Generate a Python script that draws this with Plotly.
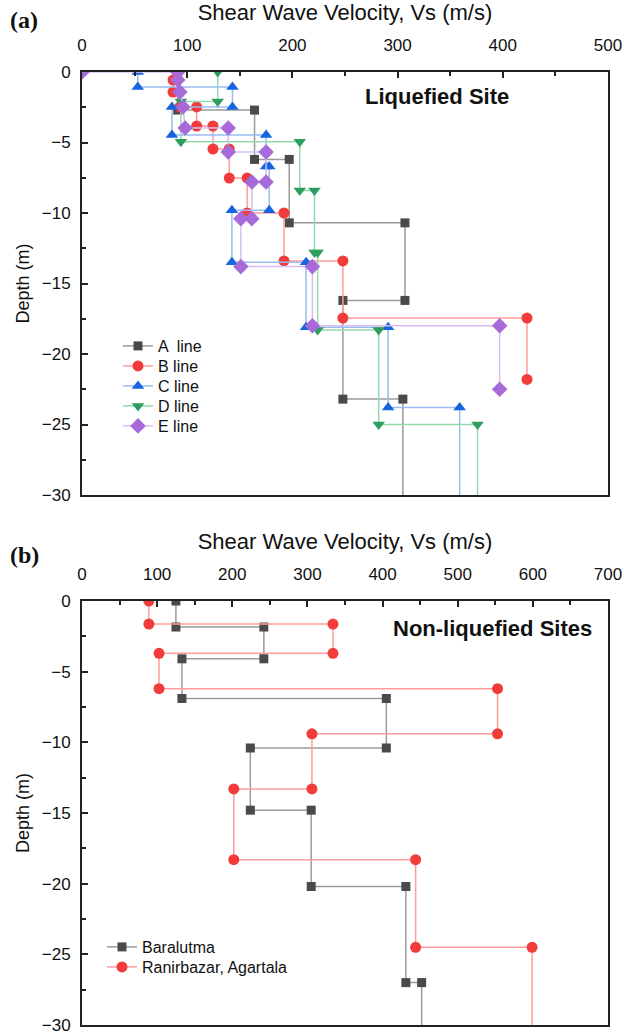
import plotly.graph_objects as go

# ---------------- Data: panel (a) Liquefied site ----------------
A_vs = [91, 91, 164, 164, 197, 197, 307, 307, 248, 248, 305, 305]
A_depth = [0, -2.7, -2.7, -6.2, -6.2, -10.7, -10.7, -16.2, -16.2, -23.2, -23.2, -31]

B_vs = [86.5, 86.5, 93, 93, 109, 109, 124.5, 124.5, 140, 140, 157, 157, 192, 192, 248, 248, 423, 423]
B_depth = [-0.57, -1.42, -1.42, -2.48, -2.48, -3.83, -3.83, -5.46, -5.46, -7.52, -7.52, -10.0, -10.0, -13.4, -13.4, -17.45, -17.45, -21.8]

C_vs = [53, 53, 143, 143, 85.5, 85.5, 175, 175, 178, 178, 142.5, 142.5, 213, 213, 291, 291, 359, 359]
C_depth = [0, -1.06, -1.06, -2.48, -2.48, -4.47, -4.47, -6.7, -6.7, -9.8, -9.8, -13.5, -13.5, -18.1, -18.1, -23.8, -23.8, -31]

D_vs = [129, 129, 94, 94, 207, 207, 221, 221, 224, 224, 282, 282, 376, 376]
D_depth = [0, -2.1, -2.1, -4.95, -4.95, -8.4, -8.4, -12.8, -12.8, -18.3, -18.3, -25.0, -25.0, -31]

E_vs = [0, 91, 91, 93, 96, 98, 139, 139, 175, 175, 161.5, 161.5, 151, 151, 219, 219, 397, 397]
E_depth = [0, 0, -0.57, -1.42, -2.48, -3.97, -3.97, -5.67, -5.67, -7.8, -7.8, -10.4, -10.4, -13.8, -13.8, -18.0, -18.0, -22.5]

# ---------------- Data: panel (b) Non-liquefied sites ----------------
Bar_vs = [125, 125, 242, 242, 133, 133, 405, 405, 224, 224, 305, 305, 431, 431, 452, 452]
Bar_depth = [0, -1.84, -1.84, -4.09, -4.09, -6.9, -6.9, -10.4, -10.4, -14.8, -14.8, -20.2, -20.2, -27.0, -27.0, -31]

Ran_vs = [89, 89, 334, 334, 102.5, 102.5, 553, 553, 306, 306, 202, 202, 444, 444, 599, 599]
Ran_depth = [0, -1.63, -1.63, -3.7, -3.7, -6.2, -6.2, -9.4, -9.4, -13.3, -13.3, -18.3, -18.3, -24.5, -24.5, -31]

x_ticks_a = [0, 100, 200, 300, 400, 500]
x_ticks_b = [0, 100, 200, 300, 400, 500, 600, 700]
y_ticks = [0, -5, -10, -15, -20, -25, -30]

FONT = "Liberation Sans, Arial, sans-serif"
W, H = 624, 1035
ML, MR, MT, MB = 82, 16, 72, 10
PW, PH = W - ML - MR, H - MT - MB


def px_x(px):
    return (px - ML) / PW


def px_y(py):
    return (H - MB - py) / PH


fig = go.Figure()

series_a = [
    ("A  line", A_vs, A_depth, "square", 9, "#4a4a4a", "#9a9a9a"),
    ("B line", B_vs, B_depth, "circle", 11, "#f23b3b", "#ff9d9d"),
    ("C line", C_vs, C_depth, "triangle-up", 11, "#1565e0", "#9bbcf0"),
    ("D line", D_vs, D_depth, "triangle-down", 11, "#2e9e5e", "#94d9ae"),
    ("E line", E_vs, E_depth, "diamond", 12, "#a86ad9", "#d9bdf2"),
]
series_b = [
    ("Baralutma", Bar_vs, Bar_depth, "square", 9, "#4a4a4a", "#9a9a9a"),
    ("Ranirbazar, Agartala", Ran_vs, Ran_depth, "circle", 11, "#f23b3b", "#ff9d9d"),
]

legend_layout = {}
k = 0
for panel, series, (lx, ly0) in (("a", series_a, (118, 346)), ("b", series_b, (102, 947))):
    xa, ya = ("x", "y") if panel == "a" else ("x2", "y2")
    for i, (name, xs, ys, sym, sz, mc, lc) in enumerate(series):
        k += 1
        lname = "legend" if k == 1 else f"legend{k}"
        fig.add_trace(go.Scatter(
            x=xs, y=ys, name=name, mode="lines+markers", showlegend=True,
            line=dict(color=lc, width=1.5),
            marker=dict(symbol=sym, size=sz, color=mc),
            xaxis=xa, yaxis=ya, legend=lname,
        ))
        legend_layout[lname] = dict(
            x=px_x(lx), y=px_y(ly0 + 20 * i), xanchor="left", yanchor="middle",
            bgcolor="rgba(0,0,0,0)", borderwidth=0, visible=True,
            font=dict(family=FONT, size=16, color="#111"),
        )


def xaxis(rng, ticks, anchor):
    return dict(
        range=rng, side="top", anchor=anchor, automargin=False,
        tickvals=ticks, ticks="inside", ticklen=6, tickwidth=1.5, tickcolor="#222",
        minor=dict(dtick=50, ticks="inside", ticklen=4, tickwidth=1.5, tickcolor="#222"),
        showline=True, linecolor="#222", linewidth=1.8, mirror=True,
        showgrid=False, zeroline=False,
        tickfont=dict(family=FONT, size=17, color="#111"),
        ticklabelstandoff=12,
        title=dict(text="Shear Wave Velocity, Vs (m/s)", font=dict(family=FONT, size=22, color="#111"), standoff=10),
    )


def yaxis(domain, anchor):
    return dict(
        range=[-30, 0], domain=domain, anchor=anchor, automargin=False,
        tickvals=y_ticks, ticks="inside", ticklen=6, tickwidth=1.5, tickcolor="#222",
        minor=dict(dtick=2.5, ticks="inside", ticklen=4, tickwidth=1.5, tickcolor="#222"),
        showline=True, linecolor="#222", linewidth=1.8, mirror=True,
        showgrid=False, zeroline=False,
        tickfont=dict(family=FONT, size=17, color="#111"),
        ticklabelstandoff=6,
        title=dict(text="Depth (m)", font=dict(family=FONT, size=18, color="#111"), standoff=8),
    )


fig.update_layout(
    width=W, height=H, showlegend=True,
    margin=dict(l=ML, r=MR, t=MT, b=MB),
    paper_bgcolor="white", plot_bgcolor="white",
    xaxis=xaxis([0, 500], x_ticks_a, "y"),
    yaxis=yaxis([px_y(495), 1.0], "x"),
    xaxis2=xaxis([0, 700], x_ticks_b, "y2"),
    yaxis2=yaxis([0.0, px_y(601)], "x2"),
    annotations=[
        dict(text="<b>(a)</b>", xref="paper", yref="paper", x=px_x(8), y=px_y(20),
             xanchor="left", yanchor="middle", showarrow=False,
             font=dict(family="Liberation Serif, Times New Roman, serif", size=24, color="#111")),
        dict(text="<b>(b)</b>", xref="paper", yref="paper", x=px_x(8), y=px_y(555),
             xanchor="left", yanchor="middle", showarrow=False,
             font=dict(family="Liberation Serif, Times New Roman, serif", size=24, color="#111")),
        dict(text="<b>Liquefied Site</b>", xref="paper", yref="paper", x=px_x(511), y=px_y(96),
             xanchor="right", yanchor="middle", showarrow=False,
             font=dict(family=FONT, size=22, color="#111")),
        dict(text="<b>Non-liquefied Sites</b>", xref="paper", yref="paper", x=px_x(594), y=px_y(628),
             xanchor="right", yanchor="middle", showarrow=False,
             font=dict(family=FONT, size=22, color="#111")),
    ],
    **legend_layout,
)

fig.write_html(
    "out.html",
    config={"displayModeBar": False},
    post_script="document.body.style.margin='0';document.body.style.overflow='hidden';",
)
